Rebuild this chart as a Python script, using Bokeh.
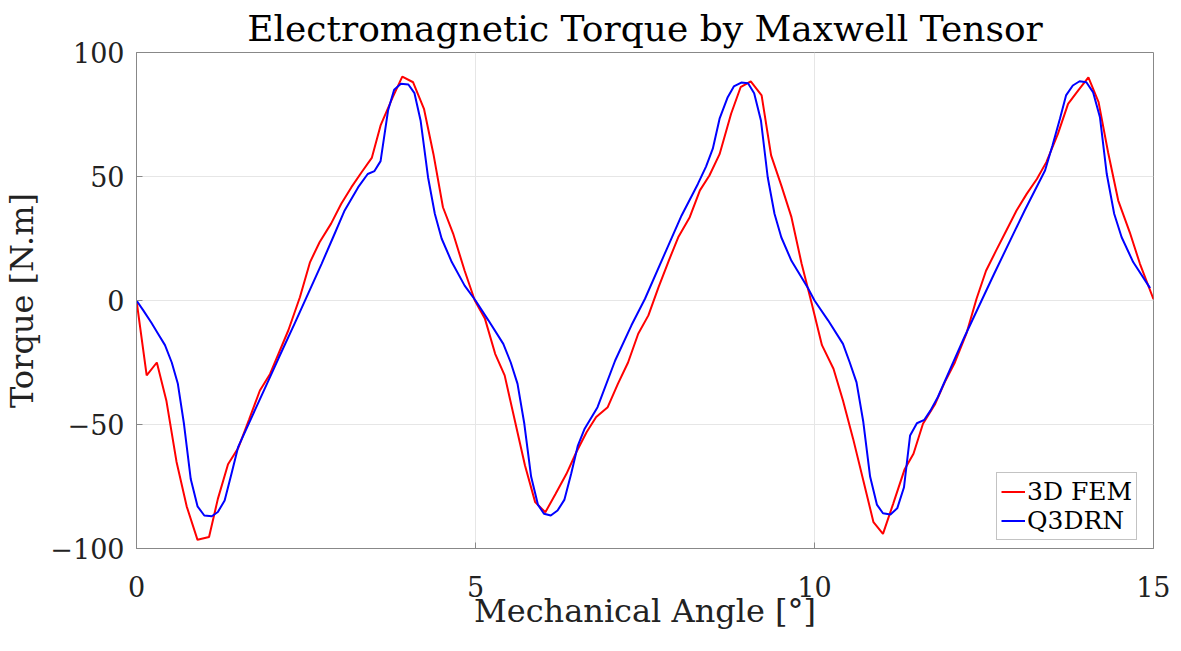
from bokeh.plotting import figure
from bokeh.models import Range1d, FixedTicker, Legend, LegendItem
from bokeh.embed import file_html
from bokeh.resources import INLINE

# 3D FEM (red)
fem_angle = [0.0, 0.15, 0.30, 0.44, 0.59, 0.74, 0.90, 1.07, 1.20, 1.35, 1.50, 1.66, 1.82, 1.97,
             2.24, 2.41, 2.56, 2.70, 2.87, 3.02, 3.17, 3.32, 3.47, 3.60, 3.78, 3.92, 4.08, 4.24,
             4.38, 4.52, 4.67, 4.84, 4.99, 5.14, 5.29, 5.43, 5.58, 5.73, 5.88, 6.03, 6.18, 6.34,
             6.49, 6.64, 6.78, 6.95, 7.10, 7.25, 7.40, 7.55, 7.70, 7.85, 7.99, 8.16, 8.31, 8.45,
             8.60, 8.77, 8.91, 9.06, 9.22, 9.36, 9.51, 9.66, 9.81, 9.96, 10.11, 10.28, 10.42,
             10.57, 10.72, 10.87, 11.01, 11.16, 11.33, 11.46, 11.60, 11.78, 11.92, 12.07, 12.24,
             12.39, 12.53, 12.68, 12.83, 12.98, 13.13, 13.28, 13.42, 13.59, 13.74, 13.89, 14.04,
             14.19, 14.33, 14.48, 14.65, 14.80, 15.0]
fem_torque = [0.0, -30.2, -25.0, -40.3, -65.0, -83.0, -96.5, -95.4, -80.0, -66.0, -59.5, -48.0,
              -36.3, -29.6, -12.0, 1.3, 15.5, 23.5, 31.0, 39.0, 45.7, 51.7, 57.5, 70.6, 82.0,
              90.3, 88.0, 77.3, 59.0, 37.6, 27.0, 12.0, 0.0, -7.4, -21.5, -30.2, -48.4, -66.5,
              -81.3, -85.4, -78.0, -70.0, -61.0, -53.0, -47.0, -43.0, -33.6, -25.0, -13.4, -6.0,
              5.4, 16.0, 25.5, 33.6, 44.4, 50.4, 59.0, 75.3, 86.0, 88.4, 82.7, 58.5, 46.4, 33.6,
              14.8, -1.3, -18.0, -27.5, -40.3, -55.8, -72.6, -89.4, -94.1, -82.0, -68.0, -61.8,
              -49.7, -41.7, -33.0, -25.0, -13.4, 0.7, 12.0, 20.2, 28.2, 36.3, 43.0, 49.0, 55.8,
              67.2, 79.3, 84.7, 90.0, 80.0, 59.8, 40.3, 27.5, 14.8, 0.5]

# Q3DRN (blue)
q3d_angle = [0.0, 0.10, 0.22, 0.32, 0.42, 0.52, 0.61, 0.70, 0.80, 0.90, 1.00, 1.11, 1.20, 1.30,
             1.40, 1.50, 1.70, 1.90, 2.10, 2.33, 2.53, 2.73, 2.90, 3.07, 3.27, 3.41, 3.51, 3.60,
             3.71, 3.80, 3.90, 4.01, 4.10, 4.19, 4.30, 4.40, 4.50, 4.65, 4.84, 5.00, 5.19, 5.41,
             5.52, 5.62, 5.72, 5.82, 5.92, 6.01, 6.11, 6.21, 6.31, 6.41, 6.51, 6.61, 6.80, 7.06,
             7.30, 7.50, 7.79, 8.04, 8.28, 8.40, 8.50, 8.60, 8.72, 8.81, 8.92, 9.02, 9.11, 9.21,
             9.31, 9.41, 9.51, 9.66, 9.91, 10.00, 10.20, 10.42, 10.52, 10.62, 10.72, 10.82, 10.92,
             11.01, 11.12, 11.22, 11.32, 11.41, 11.51, 11.62, 11.71, 11.82, 12.21, 12.65, 13.10,
             13.40, 13.51, 13.62, 13.71, 13.81, 13.91, 14.01, 14.11, 14.21, 14.31, 14.42, 14.53,
             14.70, 14.95]
q3d_torque = [0.0, -4.0, -9.0, -13.5, -18.0, -25.0, -33.6, -49.7, -72.0, -83.0, -86.7, -87.0,
              -85.3, -80.6, -70.0, -59.0, -47.0, -35.0, -23.0, -9.4, 2.7, 14.8, 25.5, 36.3, 45.7,
              51.0, 52.2, 56.2, 76.6, 85.0, 87.4, 87.1, 83.6, 72.6, 49.7, 35.0, 25.0, 15.5, 6.0,
              0.0, -8.0, -17.5, -25.0, -33.6, -49.7, -71.0, -82.3, -86.0, -86.7, -84.7, -80.4,
              -70.0, -58.5, -51.7, -43.0, -24.2, -10.0, 0.7, 18.8, 34.3, 47.0, 54.0, 61.2, 73.3,
              82.0, 86.3, 87.9, 87.6, 83.6, 72.6, 49.7, 35.0, 25.5, 16.0, 4.7, 0.0, -8.0, -17.5,
              -25.0, -33.0, -49.0, -71.0, -82.3, -85.8, -86.3, -83.8, -75.3, -54.4, -49.5, -48.1,
              -44.4, -38.9, -14.8, 10.8, 36.3, 52.4, 62.5, 73.3, 82.7, 86.7, 88.4, 88.0, 83.9,
              73.9, 51.1, 35.0, 25.5, 15.5, 5.0]

x_ticks = [0, 5, 10, 15]
y_ticks = [-100, -50, 0, 50, 100]

TITLE = "Electromagnetic Torque by Maxwell Tensor"
XLABEL = "Mechanical Angle [°]"
YLABEL = "Torque [N.m]"
FONT = "DejaVu Serif"

p = figure(width=1170, height=640, x_range=Range1d(0, 15), y_range=Range1d(-100, 100),
           output_backend="svg", toolbar_location=None,
           min_border_left=135, min_border_right=17, min_border_top=52, min_border_bottom=92)

p.title.text = TITLE
p.title.text_font = FONT
p.title.text_font_size = "36px"
p.title.text_font_style = "normal"
p.title.align = "center"
p.title.text_color = "#000000"
p.title.standoff = 8

p.outline_line_color = "#888888"
p.outline_line_width = 1

for ax in p.xaxis:
    ax.ticker = FixedTicker(ticks=x_ticks)
for ax in p.yaxis:
    ax.ticker = FixedTicker(ticks=y_ticks)

for ax in list(p.xaxis) + list(p.yaxis):
    ax.axis_line_color = "#888888"
    ax.major_tick_line_color = "#888888"
    ax.major_tick_in = 6
    ax.major_tick_out = 0
    ax.minor_tick_line_color = None
    ax.major_label_text_font = FONT
    ax.major_label_text_font_size = "27px"
    ax.major_label_text_color = "#222222"
    ax.axis_label_text_font = FONT
    ax.axis_label_text_font_size = "32px"
    ax.axis_label_text_font_style = "normal"
    ax.axis_label_text_color = "#222222"

p.xaxis.axis_label = XLABEL
p.yaxis.axis_label = YLABEL
p.xaxis.major_label_standoff = 27
p.xaxis.axis_label_standoff = -8
p.yaxis.major_label_standoff = 12
p.yaxis.axis_label_standoff = 6

p.xgrid.ticker = FixedTicker(ticks=x_ticks)
p.ygrid.ticker = FixedTicker(ticks=y_ticks)
p.grid.grid_line_color = "#e6e6e6"
p.grid.grid_line_width = 1

r1 = p.line(fem_angle, fem_torque, line_color="#ff0000", line_width=2)
r2 = p.line(q3d_angle, q3d_torque, line_color="#0000ff", line_width=2)

legend = Legend(items=[LegendItem(label="3D FEM", renderers=[r1]),
                       LegendItem(label="Q3DRN", renderers=[r2])],
                location=(860, 8))
legend.label_text_font = FONT
legend.label_text_font_size = "25px"
legend.label_text_color = "#000000"
legend.border_line_color = "#888888"
legend.border_line_width = 1
legend.background_fill_alpha = 1.0
legend.glyph_width = 24
legend.glyph_height = 27
legend.label_height = 27
legend.label_standoff = 2
legend.spacing = 0
legend.padding = 4
legend.margin = 0
p.add_layout(legend, "center")

open("out.html", "w").write(file_html(p, INLINE))
